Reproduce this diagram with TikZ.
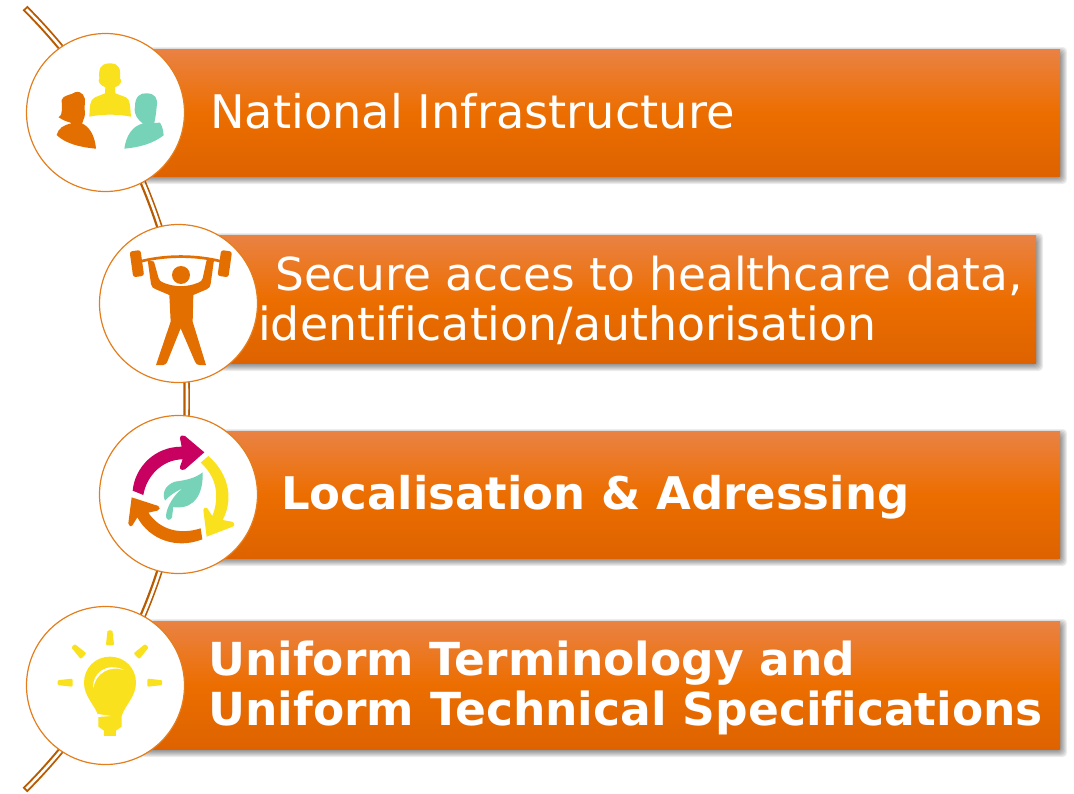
\documentclass[tikz,border=0pt]{standalone}
\usepackage{fontspec}
\setmainfont{DejaVu Sans}[Ligatures=NoCommon]
\usetikzlibrary{backgrounds}
\definecolor{bartop}{RGB}{234,130,68}
\definecolor{barmid}{RGB}{236,110,0}
\definecolor{barbot}{RGB}{222,99,0}
\definecolor{railbrown}{RGB}{184,90,0}
\definecolor{ringorange}{RGB}{228,125,28}
\definecolor{iconorange}{RGB}{227,111,0}
\definecolor{iconyellow}{RGB}{250,225,30}
\definecolor{iconteal}{RGB}{118,211,184}
\definecolor{iconcrimson}{RGB}{200,0,95}
\tikzset{
  barbox/.style={anchor=north west,inner sep=0pt,outer sep=0pt,minimum height=#1,
    top color=bartop,bottom color=barbot,middle color=barmid},
  bartext/.style={anchor=base west,inner sep=0pt,text=white,font=\fontsize{#1}{50}\selectfont},
  bartextbold/.style={anchor=base west,inner sep=0pt,text=white,font=\fontsize{#1}{50}\selectfont\bfseries},
  iconring/.style={circle,draw=ringorange,line width=1.2pt,fill=white,minimum size=158pt,inner sep=0pt},
  rail/.style={draw=railbrown,line width=6.5pt,
    postaction={draw=white,line width=2.6pt,shorten >=1.8pt,shorten <=1.8pt}},
  zoomed/.style={x=0.33333pt,y=-0.33333pt}
}
\newcommand{\barshadow}[1]{
  \foreach \e in {-1,...,5}{
    \fill[black,opacity=.07,rounded corners=4pt] ([shift={(2-\e,3-\e)}]#1.north west) rectangle ([shift={(2+\e,3+\e)}]#1.south east);
  }
}
\begin{document}
\begin{tikzpicture}[x=1pt,y=-1pt]
\useasboundingbox (0,0) rectangle (1074,793);
\coordinate (railtop) at (25,8);
\coordinate (railbot) at (25,790);
% bars
\node[barbox=127pt,minimum width=930pt] (barnational) at (130,49) {};
\node[barbox=128pt,minimum width=833pt] (barsecure) at (203,235) {};
\node[barbox=127pt,minimum width=857pt] (barlocal) at (203,431) {};
\node[barbox=128pt,minimum width=930pt] (baruniform) at (130,621) {};
\begin{scope}[on background layer]
\draw[rail] (railtop) to[bend left=45] (railbot);
\barshadow{barnational}\barshadow{barsecure}\barshadow{barlocal}\barshadow{baruniform}
\end{scope}
% circles
\node[iconring] (ringpeople) at (105.5,112.5) {};
\node[iconring] (ringlifter) at (178.5,303.5) {};
\node[iconring] (ringcycle) at (178.5,494.5) {};
\node[iconring] (ringbulb) at (105.5,685.5) {};
% texts
\node[bartext=46.3] (txtnational) at (210,128) {National Infrastructure};
\node[bartext=45.4] (txtsecure) at (275,290) {Secure acces to healthcare data,};
\node[bartext=45.8] (txtident) at (258,340) {identification/authorisation};
\node[bartextbold=45] (txtlocal) at (281,509) {Localisation \& Adressing};
\node[bartextbold=45.5] (txtterm) at (208,675) {Uniform Terminology and};
\node[bartextbold=45.55] (txtspec) at (208,725) {Uniform Technical Specifications};
% people
\begin{scope}[zoomed]
\fill[iconyellow] (268,350) .. controls (270,320) and (268,300) .. (285,292) -- (315,280) -- (316,262) .. controls (300,255) and (292,245) .. (298,235) .. controls (296,210) and (298,190) .. (330,190) .. controls (360,190) and (362,210) .. (360,235) .. controls (368,240) and (362,258) .. (345,262) -- (346,280) -- (378,292) .. controls (392,300) and (390,320) .. (393,350) .. controls (350,342) and (310,342) .. (268,350) -- cycle;
\fill[iconorange] (170,405) .. controls (175,385) and (190,375) .. (215,370) -- (245,370) .. controls (270,380) and (285,410) .. (288,446) .. controls (240,442) and (195,430) .. (170,405) -- cycle;
\fill[iconorange] (176,352) .. controls (190,345) and (185,320) .. (185,300) .. controls (188,285) and (215,285) .. (225,277) .. controls (245,270) and (258,290) .. (255,310) .. controls (250,325) and (260,340) .. (250,360) -- (245,375) -- (215,375) -- (212,368) .. controls (200,365) and (188,360) .. (176,352) -- cycle;
\fill[iconteal] (373,446) .. controls (378,410) and (395,378) .. (430,370) -- (480,368) .. controls (488,380) and (490,395) .. (491,406) .. controls (460,430) and (420,442) .. (373,446) -- cycle;
\fill[iconteal] (405,320) .. controls (405,290) and (420,278) .. (440,280) .. controls (465,280) and (475,295) .. (470,320) .. controls (468,345) and (465,360) .. (462,372) -- (430,372) .. controls (415,360) and (400,345) .. (405,320) -- cycle;
\end{scope}
% lifter
\begin{scope}[zoomed,shift={(240,630)}]
\draw[iconorange,line width=2.7pt] (160,160) .. controls (250,133) and (355,133) .. (445,160);
\fill[iconorange,rounded corners=2.5pt,rotate around={8:(170,160)}] (154,122) rectangle (187,200);
\fill[iconorange,rounded corners=2.5pt,rotate around={-8:(435,160)}] (418,122) rectangle (451,200);
\fill[iconorange] (303,195) circle[radius=27];
\fill[iconorange] (203,150) -- (213,222) .. controls (215,232) and (220,235) .. (228,238) -- (268,255) -- (272,335) -- (228,465) -- (250,465) .. controls (256,465) and (260,460) .. (262,455) -- (302,355) -- (345,455) .. controls (348,462) and (352,465) .. (358,465) -- (378,465) -- (338,335) -- (340,255) -- (380,238) .. controls (388,234) and (391,230) .. (392,222) -- (402,150) -- (380,150) -- (368,205) .. controls (366,212) and (362,215) .. (355,218) .. controls (320,232) and (285,232) .. (250,218) .. controls (243,215) and (238,212) .. (236,205) -- (222,155) -- cycle;
\end{scope}
% cycle
\begin{scope}[zoomed,shift={(240,1200)}]
\fill[iconcrimson] (158,272) .. controls (165,200) and (225,140) .. (305,140) -- (300,115) .. controls (300,105) and (310,105) .. (315,108) -- (373,157) -- (315,208) .. controls (305,212) and (298,208) .. (300,200) -- (308,178) .. controls (250,178) and (200,225) .. (190,285) -- cycle;
\fill[iconyellow] (362,188) -- (385,168) .. controls (440,215) and (465,290) .. (428,360) -- (455,365) .. controls (465,368) and (465,376) .. (458,380) -- (380,410) -- (370,330) .. controls (370,322) and (378,320) .. (382,325) -- (397,348) .. controls (420,290) and (410,230) .. (362,188) -- cycle;
\fill[iconorange] (362,385) -- (367,418) .. controls (290,448) and (210,420) .. (172,352) -- (158,375) .. controls (153,382) and (145,378) .. (145,370) -- (155,292) -- (235,318) .. controls (242,322) and (240,330) .. (232,332) -- (205,338) .. controls (240,390) and (300,405) .. (362,385) -- cycle;
\fill[iconteal] (368,217) .. controls (370,280) and (345,325) .. (290,322) .. controls (285,322) and (282,322) .. (280,320) -- (276,352) .. controls (272,362) and (260,362) .. (258,350) .. controls (258,325) and (280,285) .. (308,265) .. controls (285,275) and (265,290) .. (255,302) .. controls (245,280) and (255,255) .. (285,245) .. controls (320,240) and (345,235) .. (368,217) -- cycle;
\end{scope}
% bulb
\begin{scope}[zoomed,shift={(0,1770)}]
\fill[iconyellow] (295,378) .. controls (285,345) and (252,320) .. (252,278) .. controls (252,235) and (285,200) .. (330,200) .. controls (375,200) and (408,235) .. (408,278) .. controls (408,320) and (375,345) .. (365,378) -- (365,410) -- (348,422) -- (348,438) -- (312,438) -- (312,422) -- (295,410) -- cycle;
\fill[white] (280,295) .. controls (275,250) and (320,215) .. (372,240) .. controls (330,225) and (285,250) .. (280,295) -- cycle;
\fill[white] (293,372) -- (333,378) -- (293,381) -- cycle;
\foreach \rayangle in {-90,-45,0,45,90}{
  \filldraw[iconyellow,line width=2.5pt,line join=round,rotate around={\rayangle:(330,278)}] (326,125) -- (334,125) -- (338,162) -- (322,162) -- cycle;
}
\end{scope}
\end{tikzpicture}
\end{document}
